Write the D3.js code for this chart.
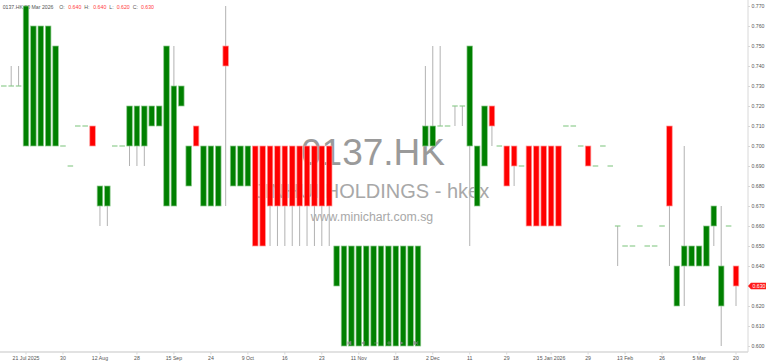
<!DOCTYPE html>
<html>
<head>
<meta charset="utf-8">
<script src="https://cdn.jsdelivr.net/npm/d3@7"></script>
<style>
  html, body { margin: 0; padding: 0; background: #fff; }
  svg { display: block; font-family: "Liberation Sans", Arial, sans-serif; }
  .axis path, .axis line { stroke: #d8d8d8; }
  .axis text { fill: #555; font-size: 5.2px; }
</style>
</head>
<body>
<svg id="chart" width="768" height="363"></svg>
<script>
// daily candles, oldest first (0137.HK)
const opens  = [0.73,0.73,0.73,0.70,0.70,0.70,0.70,0.70,0.70,0.69,
                0.71,0.71,0.71,0.67,0.67,0.70,0.70,0.70,0.70,0.70,
                0.71,0.71,0.67,0.67,0.72,0.68,0.71,0.67,0.67,0.67,
                0.75,0.68,0.68,0.68,0.70,0.70,0.70,0.70,0.70,0.70,
                0.70,0.70,0.70,0.70,0.70,0.63,0.60,0.60,0.60,0.60,
                0.60,0.60,0.60,0.60,0.60,0.60,0.60,0.70,0.70,0.71,
                0.71,0.72,0.72,0.70,0.67,0.69,0.72,0.70,0.70,0.70,
                0.69,0.70,0.70,0.70,0.70,0.70,0.71,0.71,0.70,0.70,
                0.69,0.70,0.69,0.66,0.65,0.65,0.66,0.65,0.65,0.66,
                0.71,0.62,0.64,0.64,0.64,0.64,0.66,0.62,0.66,0.64]
const highs  = [0.73,0.74,0.74,0.77,0.76,0.76,0.76,0.75,0.70,0.69,
                0.71,0.71,0.71,0.68,0.68,0.70,0.70,0.72,0.72,0.72,
                0.72,0.72,0.75,0.75,0.73,0.70,0.71,0.70,0.70,0.70,
                0.77,0.70,0.70,0.70,0.70,0.70,0.70,0.70,0.70,0.70,
                0.70,0.70,0.70,0.70,0.70,0.65,0.65,0.65,0.65,0.65,
                0.65,0.65,0.65,0.65,0.65,0.65,0.65,0.74,0.75,0.75,
                0.71,0.72,0.72,0.75,0.70,0.72,0.72,0.70,0.70,0.70,
                0.69,0.70,0.70,0.70,0.70,0.70,0.71,0.71,0.70,0.70,
                0.69,0.70,0.69,0.66,0.65,0.65,0.66,0.65,0.65,0.66,
                0.71,0.64,0.70,0.65,0.65,0.66,0.67,0.67,0.66,0.64]
const lows   = [0.73,0.73,0.73,0.70,0.70,0.70,0.70,0.70,0.70,0.69,
                0.71,0.71,0.70,0.66,0.66,0.70,0.70,0.69,0.69,0.69,
                0.71,0.71,0.67,0.67,0.72,0.68,0.70,0.67,0.67,0.67,
                0.67,0.68,0.68,0.68,0.65,0.65,0.65,0.65,0.65,0.65,
                0.65,0.65,0.65,0.65,0.65,0.63,0.60,0.60,0.60,0.60,
                0.60,0.60,0.60,0.60,0.60,0.60,0.60,0.70,0.70,0.71,
                0.71,0.71,0.71,0.65,0.67,0.69,0.70,0.70,0.68,0.68,
                0.69,0.66,0.66,0.66,0.66,0.66,0.71,0.71,0.70,0.69,
                0.69,0.70,0.69,0.64,0.65,0.65,0.66,0.65,0.65,0.66,
                0.64,0.62,0.62,0.64,0.64,0.64,0.65,0.60,0.66,0.62]
const closes = [0.73,0.73,0.73,0.77,0.76,0.76,0.76,0.75,0.70,0.69,
                0.71,0.71,0.70,0.68,0.68,0.70,0.70,0.72,0.72,0.72,
                0.72,0.72,0.75,0.73,0.73,0.70,0.70,0.70,0.70,0.70,
                0.74,0.70,0.70,0.70,0.65,0.65,0.67,0.67,0.67,0.67,
                0.67,0.67,0.67,0.67,0.67,0.65,0.65,0.65,0.65,0.65,
                0.65,0.65,0.65,0.65,0.65,0.65,0.65,0.71,0.71,0.71,
                0.71,0.72,0.72,0.75,0.70,0.72,0.71,0.70,0.68,0.69,
                0.69,0.66,0.66,0.66,0.66,0.66,0.71,0.71,0.70,0.69,
                0.69,0.70,0.69,0.66,0.65,0.65,0.66,0.65,0.65,0.66,
                0.67,0.64,0.65,0.65,0.65,0.66,0.67,0.64,0.66,0.63]

const tickIndex  = [3, 8, 13, 18, 23, 28, 33, 38, 43, 48, 53, 58, 63, 68, 74, 79, 84, 89, 94, 99]
const tickLabels = ["21 Jul 2025","30","12 Aug","28","15 Sep","24","9 Oct","16","23","11 Nov",
                    "18","2 Dec","11","29","15 Jan 2026","29","13 Feb","26","5 Mar","20"]
const priceTicks = d3.range(0.600, 0.7705, 0.010)

const svg = d3.select("#chart")
const candles = opens.map((o, i) => ({i: i, o: o, h: highs[i], l: lows[i], c: closes[i]}))

const x = d3.scaleBand()
    .domain(d3.range(candles.length))
    .range([0.1, 739.7])
    .paddingInner(0.25)
    .paddingOuter(0.125)
const y = d3.scaleLinear()
    .domain([0.600, 0.770])
    .range([346, 6])
const cx = i => x(i) + x.bandwidth() / 2

// watermark behind the candles
const mark = svg.append("g").attr("text-anchor", "middle")
mark.append("text").attr("x", 373).attr("y", 165)
    .attr("font-size", 37).attr("fill", "#9a9a9a").text("0137.HK")
mark.append("text").attr("x", 372).attr("y", 198)
    .attr("font-size", 20).attr("fill", "#a8a8a8").text("JINHUI HOLDINGS - hkex")
mark.append("text").attr("x", 372).attr("y", 221)
    .attr("font-size", 12.3).attr("fill", "#a8a8a8").text("www.minichart.com.sg")

// header line
const last = candles[candles.length - 1]
const head = svg.append("g").attr("font-size", 5.2)
const headParts = [
    ["0137.HK 20 Mar 2026", 2.7, "#555"],
    ["O:", 59.3, "#555"], [last.o.toFixed(3), 68.3, "#ff3b3b"],
    ["H:", 84.3, "#555"], [last.h.toFixed(3), 93.3, "#ff3b3b"],
    ["L:", 109.3, "#555"], [last.l.toFixed(3), 116.7, "#ff3b3b"],
    ["C:", 132.7, "#555"], [last.c.toFixed(3), 141, "#ff3b3b"]
]
headParts.forEach(p => {
    head.append("text").attr("x", p[1]).attr("y", 9.2).attr("fill", p[2]).text(p[0])
})

// axes
svg.append("g")
    .attr("class", "axis")
    .attr("transform", "translate(0,352)")
    .call(d3.axisBottom(x)
        .tickValues(tickIndex)
        .tickFormat(i => tickLabels[tickIndex.indexOf(i)])
        .tickSize(2.5)
        .tickPadding(1.5))
    .call(g => g.select(".domain").attr("stroke", "#e2e2e2").attr("stroke-width", 1.6)
        .attr("d", "M0,0H748"))

svg.append("g")
    .attr("class", "axis")
    .attr("transform", "translate(748,0)")
    .call(d3.axisRight(y)
        .tickValues(priceTicks)
        .tickFormat(d3.format(".3f"))
        .tickSize(2)
        .tickPadding(1.5))
    .call(g => g.select(".domain").attr("d", "M0,0V352"))

// wicks
svg.append("g").selectAll("line")
    .data(candles.filter(d => d.h > Math.max(d.o, d.c) || d.l < Math.min(d.o, d.c)))
    .join("line")
    .attr("x1", d => cx(d.i)).attr("x2", d => cx(d.i))
    .attr("y1", d => y(d.h)).attr("y2", d => y(d.l))
    .attr("stroke", "#b2b2b2")
    .attr("stroke-width", 1)

// flat days
svg.append("g").selectAll("line")
    .data(candles.filter(d => d.o === d.c))
    .join("line")
    .attr("x1", d => x(d.i)).attr("x2", d => x(d.i) + x.bandwidth())
    .attr("y1", d => y(d.c)).attr("y2", d => y(d.c))
    .attr("stroke", "#86c986")
    .attr("stroke-width", 1.1)

// bodies
svg.append("g").selectAll("rect")
    .data(candles.filter(d => d.o !== d.c))
    .join("rect")
    .attr("x", d => x(d.i))
    .attr("width", x.bandwidth())
    .attr("y", d => y(Math.max(d.o, d.c)))
    .attr("height", d => Math.abs(y(d.o) - y(d.c)))
    .attr("fill", d => d.c > d.o ? "#008000" : "#ff0000")
    .attr("stroke", d => d.c > d.o ? "#8cc98c" : "#ff9a9a")
    .attr("stroke-width", 0.7)

// navigation buttons at the bottom
const nav = svg.append("g").attr("fill", "#8a8a8a").attr("opacity", 0.85)
const navX = [349, 362.7, 376, 389, 402, 415.7]
nav.append("path").attr("d", `M${navX[0]-2},341V345M${navX[0]+2},341L${navX[0]-1.5},343L${navX[0]+2},345Z`)
    .attr("stroke", "#8a8a8a").attr("stroke-width", 0.6)
nav.append("path").attr("d", `M${navX[1]+2},341L${navX[1]-1.5},343L${navX[1]+2},345Z`)
nav.append("path").attr("d", `M${navX[2]-2},343H${navX[2]+2}`).attr("stroke", "#8a8a8a").attr("stroke-width", 0.7)
nav.append("path").attr("d", `M${navX[3]-2},343H${navX[3]+2}M${navX[3]},341V345`).attr("stroke", "#8a8a8a").attr("stroke-width", 0.7)
nav.append("path").attr("d", `M${navX[4]-2},341L${navX[4]+1.5},343L${navX[4]-2},345Z`)
nav.append("path").attr("d", `M${navX[5]+2},341V345M${navX[5]-2},341L${navX[5]+1.5},343L${navX[5]-2},345Z`)
    .attr("stroke", "#8a8a8a").attr("stroke-width", 0.6)

// last price tag
const ty = y(last.c)
svg.append("path")
    .attr("d", `M748,${ty}L751,${ty-3.3}H766V${ty+3.3}H751Z`)
    .attr("fill", "#ff1a1a")
svg.append("text")
    .attr("x", 752.5).attr("y", ty + 1.9)
    .attr("font-size", 5.2).attr("fill", "#fff")
    .text(d3.format(".3f")(last.c))
</script>
</body>
</html>
